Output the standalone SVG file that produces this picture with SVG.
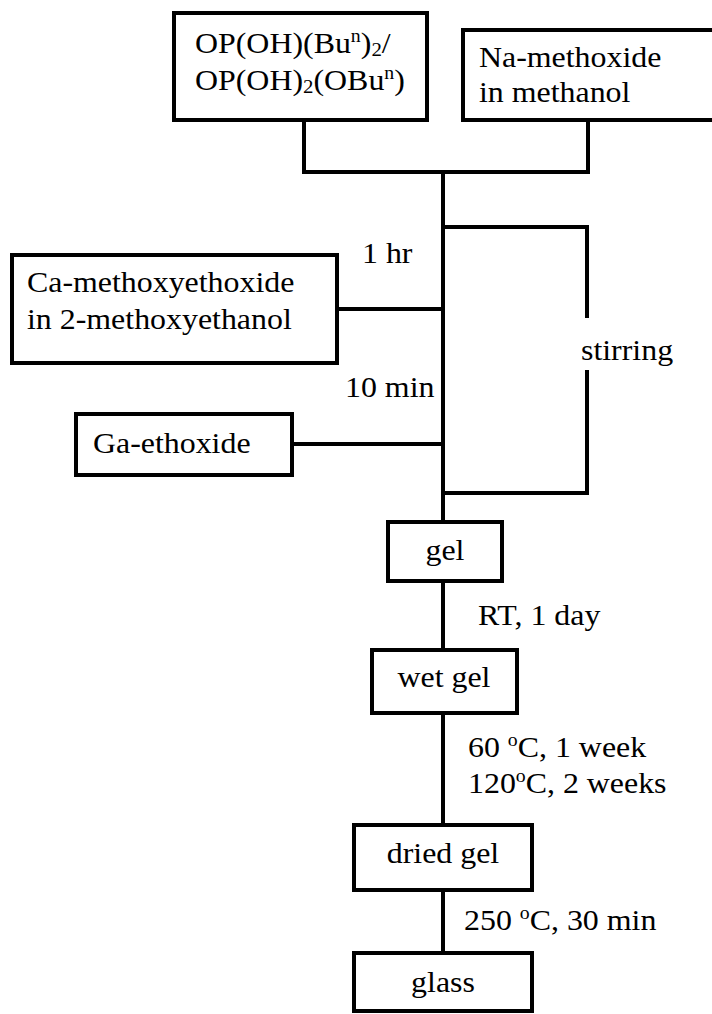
<svg xmlns="http://www.w3.org/2000/svg" width="712" height="1014" viewBox="0 0 712 1014">
<style>
.box{fill:#fff;stroke:#000;stroke-width:4}
.ln{fill:none;stroke:#000;stroke-width:4}
text{font-family:"Liberation Serif","Times New Roman",serif;font-size:29px;fill:#000}
.sup{font-size:18px}
.sub{font-size:19px}
</style>
<rect width="712" height="1014" fill="#fff"/>
<g id="connectors">
<path class="ln" d="M304,120 V172 M588,120 V172 M302,172 H590 M443,172 V520"/>
<path class="ln" d="M443,227 H587 V318 M587,370 V493 H443"/>
<path class="ln" d="M337,309 H443 M292,444 H443"/>
<path class="ln" d="M443,581 V650 M443,713 V825 M443,890 V953"/>
</g>
<g id="n-op">
<rect class="box" x="174" y="13" width="253" height="107"/>
<text x="195" y="53" transform="matrix(1.1 0 0 1 -19.5 0)">OP(OH)(Bu<tspan class="sup" dy="-11">n</tspan><tspan dy="11">)</tspan><tspan class="sub" dy="3">2</tspan><tspan dy="-3">/</tspan></text>
<text x="195" y="90" transform="matrix(1.1 0 0 1 -19.5 0)">OP(OH)<tspan class="sub" dy="3">2</tspan><tspan dy="-3">(OBu</tspan><tspan class="sup" dy="-11">n</tspan><tspan dy="11">)</tspan></text>
</g>
<g id="n-na">
<rect class="box" x="463" y="30" width="254" height="90"/>
<text x="479" y="67" transform="matrix(1.1 0 0 1 -47.9 0)">Na-methoxide</text>
<text x="479" y="102" transform="matrix(1.1 0 0 1 -47.9 0)">in methanol</text>
</g>
<g id="l-1hr"><text x="362" y="263" transform="matrix(1.1 0 0 1 -36.2 0)">1 hr</text></g>
<g id="n-ca">
<rect class="box" x="12" y="255" width="325" height="108"/>
<text x="27" y="292" transform="matrix(1.1 0 0 1 -2.7 0)">Ca-methoxyethoxide</text>
<text x="27" y="329" transform="matrix(1.1 0 0 1 -2.7 0)">in 2-methoxyethanol</text>
</g>
<g id="l-stir"><text x="581" y="360" transform="matrix(1.1 0 0 1 -58.1 0)">stirring</text></g>
<g id="l-10min"><text x="345" y="397" transform="matrix(1.1 0 0 1 -34.5 0)">10 min</text></g>
<g id="n-ga">
<rect class="box" x="76" y="414" width="216" height="61"/>
<text x="93" y="453" transform="matrix(1.1 0 0 1 -9.3 0)">Ga-ethoxide</text>
</g>
<g id="n-gel">
<rect class="box" x="388" y="522" width="114" height="59"/>
<text x="445" y="560" text-anchor="middle" transform="matrix(1.1 0 0 1 -44.5 0)">gel</text>
</g>
<g id="l-rt"><text x="478" y="625" transform="matrix(1.1 0 0 1 -47.8 0)">RT, 1 day</text></g>
<g id="n-wet">
<rect class="box" x="372" y="650" width="145" height="63"/>
<text x="444" y="687" text-anchor="middle" transform="matrix(1.1 0 0 1 -44.4 0)">wet gel</text>
</g>
<g id="l-dry">
<text x="468" y="757" transform="matrix(1.1 0 0 1 -46.8 0)">60 <tspan class="sup" dy="-11">o</tspan><tspan dy="11">C, 1 week</tspan></text>
<text x="468" y="793" transform="matrix(1.1 0 0 1 -46.8 0)">120<tspan class="sup" dy="-11">o</tspan><tspan dy="11">C, 2 weeks</tspan></text>
</g>
<g id="n-dried">
<rect class="box" x="354" y="825" width="178" height="65"/>
<text x="443" y="863" text-anchor="middle" transform="matrix(1.1 0 0 1 -44.3 0)">dried gel</text>
</g>
<g id="l-250"><text x="464" y="930" transform="matrix(1.1 0 0 1 -46.4 0)">250 <tspan class="sup" dy="-11">o</tspan><tspan dy="11">C, 30 min</tspan></text></g>
<g id="n-glass">
<rect class="box" x="354" y="953" width="178" height="58"/>
<text x="443" y="992" text-anchor="middle" transform="matrix(1.1 0 0 1 -44.3 0)">glass</text>
</g>
</svg>
